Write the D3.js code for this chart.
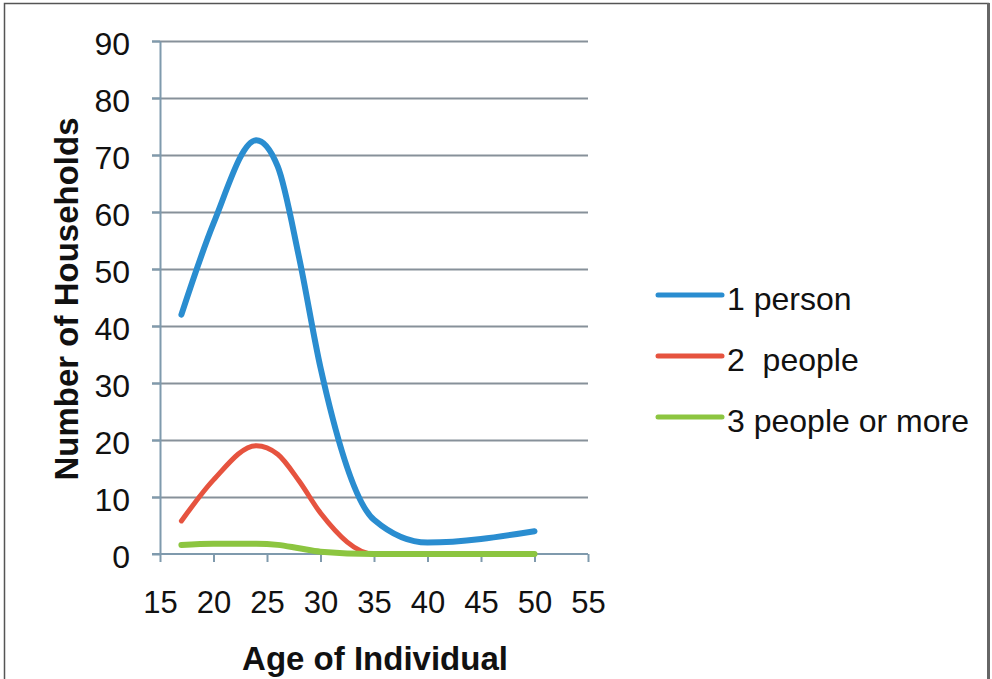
<!DOCTYPE html>
<html>
<head>
<meta charset="utf-8">
<script src="https://cdn.jsdelivr.net/npm/d3@7"></script>
<style>
    body { margin: 0; background: #fff; }
    #chart text { font-family: "Liberation Sans", Arial, Helvetica, sans-serif; fill: #111; }
    .grid line { stroke: #87919a; stroke-width: 2; }
    .grid path { stroke: none; }
    .axis path, .axis line { stroke: #7f9aad; stroke-width: 2; }
</style>
</head>
<body>
<div id="chart"></div>
<script>

// ages on the x axis (same for all three series)
const ages = [17, 20, 24, 26, 28, 30, 35, 40, 50]

// household counts
const onePerson = [42, 58, 72.6, 68, 52, 32.7, 6, 2, 4]
const twoPeople = [5.8, 13, 19, 17.5, 12.8, 7.2, 0, 0, 0]
const threeOrMore = [1.6, 1.8, 1.8, 1.6, 1.0, 0.4, 0, 0, 0]

const seriesNames = ["1 person", "2  people", "3 people or more"]

const xTicks = [15, 20, 25, 30, 35, 40, 45, 50, 55]
const yTicks = [0, 10, 20, 30, 40, 50, 60, 70, 80, 90]

class HouseholdChart {

    constructor(data){
        this.tag = data.tag
        this.series = data.series
        this.colors = data.colors || ["#2a8dd0", "#e6533f", "#8cc540"]
        this.widths = [6, 5, 6]

        this.xsize = data.width || 992
        this.ysize = data.height || 679

        this.x_label = data.x_label || ''
        this.y_label = data.y_label || ''

        this.margin = {top: 41, right: 404, bottom: 125, left: 160}
        this.width = this.xsize - this.margin.left - this.margin.right
        this.height = this.ysize - this.margin.top - this.margin.bottom
    }

    init(){
        var root = d3.select(`#${this.tag}`)
            .append("svg")
                .attr("width", this.xsize)
                .attr("height", this.ysize)

        //outer frame, right edge is a bit heavier like the scan
        root.append("rect")
            .attr("x", 4.5).attr("y", 3.5)
            .attr("width", 984).attr("height", 700)
            .attr("fill", "none")
            .attr("stroke", "#555")
            .attr("stroke-width", 1.5)
        root.append("line")
            .attr("x1", 988.5).attr("x2", 988.5)
            .attr("y1", 3).attr("y2", 679)
            .attr("stroke", "#666")
            .attr("stroke-width", 3)

        this.svg = root.append("g")
            .attr("transform", "translate(" + this.margin.left + "," + this.margin.top + ")")
    }

    getXYScale(){
        this.x = d3.scaleLinear()
            .domain([15, 55])
            .range([0, this.width])

        this.y = d3.scaleLinear()
            .domain([0, 90])
            .range([this.height, 0])
    }

    renderGrid(){
        this.getXYScale()
        var x = this.x
        var y = this.y

        // horizontal gridlines (start at the little left ticks)
        this.svg.append("g")
            .attr("class", "grid")
            .call(d3.axisLeft(y)
                .tickValues(yTicks.slice(1))
                .tickSize(-this.width - 8)
                .tickFormat("")
            )
            .attr("transform", "translate(-8,0)")

        // y axis
        var yAxis = this.svg.append("g")
            .attr("class", "axis")
            .call(d3.axisLeft(y)
                .tickValues(yTicks)
                .tickSize(8)
                .tickSizeOuter(0)
                .tickPadding(22)
            )
        yAxis.selectAll("text")
            .style("font-size", "32px")
            .attr("dy", "0.42em")

        // x axis
        var xAxis = this.svg.append("g")
            .attr("class", "axis")
            .attr("transform", "translate(0," + this.height + ")")
            .call(d3.axisBottom(x)
                .tickValues(xTicks)
                .tickSize(8)
                .tickSizeOuter(0)
                .tickPadding(29)
            )
        xAxis.selectAll("text")
            .style("font-size", "31px")
        // the zero line runs out to the left tick too
        xAxis.select(".domain").attr("d", "M-8,0H" + this.width)

        //horizontal axis label
        this.svg.append("text")
            .attr("x", this.width / 2 + 1)
            .attr("y", this.height + 116)
            .attr("text-anchor", "middle")
            .style("font-size", "33px")
            .style("font-weight", "bold")
            .text(this.x_label)

        //vertical axis label
        this.svg.append('g')
            .attr('transform', 'translate(' + -82 + ', ' + 258 + ')')
            .append('text')
                .attr('text-anchor', 'middle')
                .attr('transform', 'rotate(-90)')
                .style("font-size", "33px")
                .style("font-weight", "bold")
                .text(this.y_label)
    }

    drawSeries(){
        let x = this.x
        let y = this.y

        this.series.forEach((values, i) => {
            let points = ages.map((a, j) => ({age: a, value: values[j]}))

            this.svg.append("path")
                .datum(points)
                .attr("fill", "none")
                .attr("stroke", this.colors[i])
                .attr("stroke-width", this.widths[i])
                .attr("stroke-linecap", "round")
                .attr("stroke-linejoin", "round")
                .attr("d", d3.line()
                    .x(function(d) { return x(d.age) })
                    .y(function(d) { return y(d.value) })
                    .curve(d3.curveMonotoneX)
                )
        })
    }

    appendLegend(){
        var index = 0
        for(var name of seriesNames){
            var ly = 254 + (index * 61)

            this.svg.append("line")
                .attr("x1", 498).attr("x2", 562)
                .attr("y1", ly).attr("y2", ly)
                .attr("stroke", this.colors[index])
                .attr("stroke-width", 5)
                .attr("stroke-linecap", "round")

            this.svg.append("text")
                .attr("x", 567)
                .attr("y", ly + 15)
                .attr("xml:space", "preserve")
                .style("white-space", "pre")
                .style("font-size", "32px")
                .text(name)

            index++
        }
    }
}

var chart = new HouseholdChart({
    tag: "chart",
    series: [onePerson, twoPeople, threeOrMore],
    x_label: "Age of Individual",
    y_label: "Number of Households"
})
chart.init()
chart.renderGrid()
chart.drawSeries()
chart.appendLegend()

</script>
</body>
</html>
